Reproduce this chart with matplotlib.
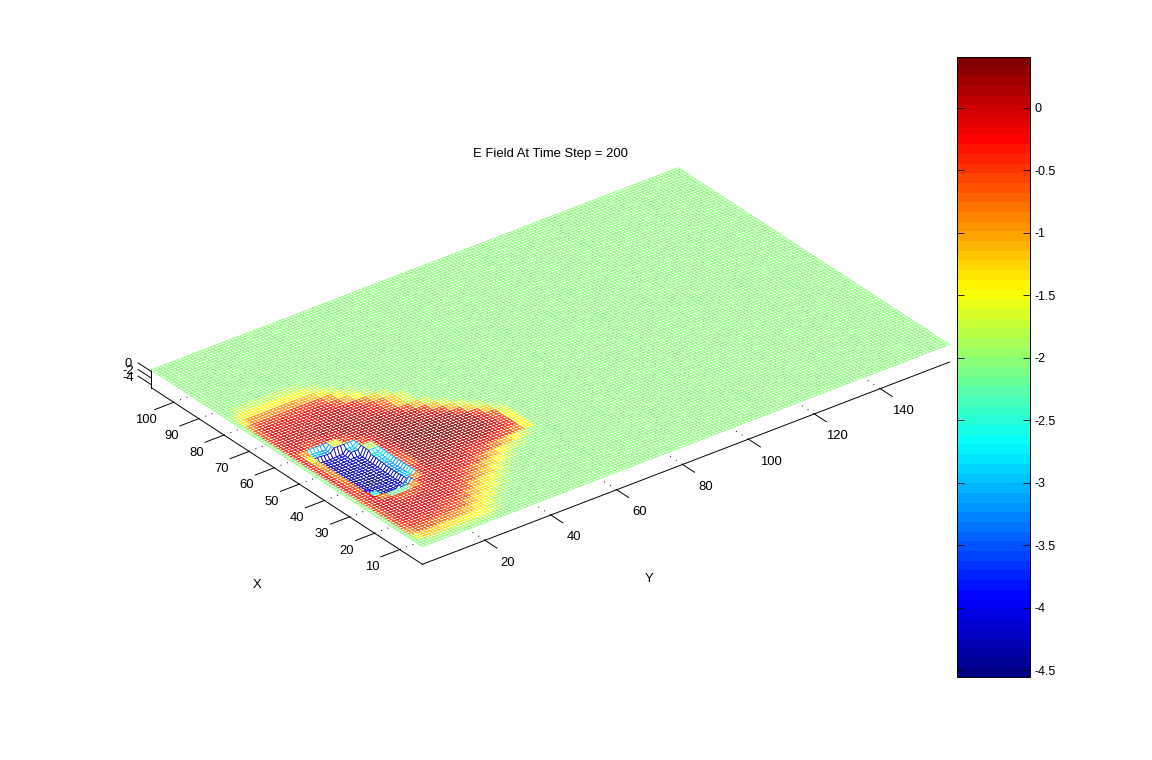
import matplotlib
matplotlib.use("Agg")
import matplotlib.pyplot as plt
from matplotlib.cm import ScalarMappable
from matplotlib.colors import LinearSegmentedColormap, Normalize
import numpy as np

plt.rcParams['font.family'] = ['Liberation Sans', 'DejaVu Sans']
plt.rcParams['font.size'] = 9.4
plt.rcParams['axes.unicode_minus'] = False

# grid size of the mesh
n_x = 109
n_y = 161
flat_level = -2.0
sheet_z = 0.45
cell = 3  # one table entry covers this many mesh cells

x_ticks = [10, 20, 30, 40, 50, 60, 70, 80, 90, 100]
y_ticks = [20, 40, 60, 80, 100, 120, 140]
z_ticks = [-4, -2, 0]
cbar_ticks = [0, -0.5, -1, -1.5, -2, -2.5, -3, -3.5, -4, -4.5]
c_min = -4.556
c_max = 0.408

# values, a row for every 3 X steps, every 3 Y steps along it
# rows stop where the field is back at the flat level
field_rows = [
    [-2, -1.9, -1.9, -1.9, -1.9, -1.9, -1.9, -1.9],
    [-1.6, -1.2, -1.2, -1.3, -1.3, -1.4, -1.5, -1.6, -1.8],
    [-0.9, -0.6, -0.6, -0.7, -0.8, -0.9, -1.1, -1.3, -1.6, -1.9],
    [-0.6, -0.3, -0.3, -0.3, -0.4, -0.5, -0.6, -1.0, -1.3, -1.6, -1.9],
    [-0.5, -0.2, -0.1, -0.1, -0.2, -0.3, -0.4, -0.6, -1.0, -1.3, -1.6, -1.9],
    [-0.5, -0.1, 0, 0, -0.1, -0.1, -0.2, -0.3, -0.6, -1.0, -1.3, -1.6, -1.9],
    [-0.5, -0.1, 0, -0.1, -0.1, 0, -0.1, -0.2, -0.3, -0.6, -0.9, -1.2, -1.6, -1.9],
    [-0.5, 0, -0.1, -0.5, -0.5, -0.3, -0.1, -0.1, -0.2, -0.3, -0.6, -0.9, -1.2, -1.5, -1.8],
    [-0.5, -0.1, -0.8, -2.2, -2.2, -0.9, -0.2, 0, -0.1, -0.1, -0.2, -0.4, -0.7, -1.0, -1.4, -1.7, -1.9],
    [-0.4, -0.3, -2.6, -4.2, -4.2, -3.4, -0.9, -0.1, 0, 0, 0, -0.1, -0.3, -0.4, -0.7, -1.0, -1.4, -1.7],
    [-0.3, -0.5, -4.0, -4.4, -4.4, -4.3, -3.0, -0.3, 0.1, 0.1, 0.1, 0, -0.1, -0.1, -0.2, -0.3, -0.5, -0.8, -1.5],
    [-0.3, -0.6, -4.3, -4.5, -4.5, -4.4, -3.2, -0.6, 0.1, 0.2, 0.2, 0.2, 0.1, 0.1, 0.1, 0, -0.1, -0.3, -1.4],
    [-0.3, -0.7, -4.3, -4.5, -4.5, -4.4, -3.2, -0.5, 0.2, 0.3, 0.3, 0.3, 0.3, 0.3, 0.2, 0.2, 0, -0.4, -1.5],
    [-0.3, -0.8, -4.3, -4.4, -4.4, -4.3, -3.0, -0.3, 0.2, 0.3, 0.3, 0.35, 0.35, 0.35, 0.3, 0.2, -0.1, -0.6, -1.6],
    [-0.3, -0.8, -4.3, -4.4, -4.4, -4.3, -2.8, -0.2, 0.2, 0.3, 0.35, 0.35, 0.35, 0.3, 0.25, 0.1, -0.4, -1.2, -1.9],
    [-0.3, -1.0, -4.2, -4.4, -4.3, -4.2, -1.8, -0.1, 0.2, 0.3, 0.3, 0.3, 0.3, 0.2, 0.1, -0.4, -1.2, -1.8],
    [-0.3, -1.4, -4.2, -4.3, -4.2, -3.0, -0.4, 0, 0.2, 0.25, 0.25, 0.2, 0.15, 0, -0.4, -1.1, -1.7],
    [-0.3, -0.9, -3.0, -3.2, -1.6, -0.4, 0, 0.1, 0.15, 0.2, 0.15, 0.1, 0, -0.4, -1.1, -1.7],
    [-0.3, -0.1, -0.4, -0.3, -0.1, 0, 0.1, 0.1, 0.1, 0.1, 0.05, -0.1, -0.5, -1.1, -1.7],
    [-0.3, 0, 0, 0, 0.1, 0.1, 0.1, 0.1, 0.05, 0, -0.2, -0.6, -1.2, -1.7],
    [-0.4, 0, 0, 0, 0, 0.05, 0.05, 0.05, 0, -0.1, -0.3, -0.7, -1.2, -1.7],
    [-0.5, -0.1, -0.1, -0.1, -0.05, 0, 0, 0, -0.1, -0.3, -0.7, -1.2, -1.7],
    [-0.6, -0.2, -0.2, -0.2, -0.2, -0.1, -0.1, -0.2, -0.5, -1.0, -1.5, -1.9],
    [-0.9, -0.4, -0.4, -0.4, -0.4, -0.4, -0.4, -0.5, -0.9, -1.4, -1.8],
    [-1.3, -0.9, -0.9, -0.9, -0.9, -0.9, -1.0, -1.1, -1.4, -1.8],
    [-1.7, -1.4, -1.4, -1.4, -1.4, -1.4, -1.5, -1.6, -1.8],
    [-2, -1.8, -1.8, -1.8, -1.8, -1.8, -1.8, -1.9],
]

field = np.full((n_x, n_y), flat_level)
for i, row in enumerate(field_rows):
    for j, value in enumerate(row):
        field[i * cell:(i + 1) * cell, j * cell:(j + 1) * cell] = value
# the outermost mesh line stays green all round
field[:, 0] = flat_level
field[0, :] = flat_level

# the sheet stays level except where the field drops below the flat level
height = sheet_z + np.minimum(field - flat_level, 0)

X, Y = np.meshgrid(np.arange(1, n_x + 1), np.arange(1, n_y + 1), indexing='ij')

fig = plt.figure(figsize=(11.52, 7.6), dpi=100, facecolor='white')
ax = fig.add_axes([-36 / 1152, 3.8 / 760, 1, 1], projection='3d', proj_type='ortho')
ax.patch.set_alpha(0)
ax.view_init(elev=30, azim=-37.5)
ax.set_xlim(n_x, 1)
ax.set_ylim(1, n_y)
ax.set_zlim(-4.9, 0.5)
ax.set_box_aspect((446, 665, 20.6), zoom=1.022)

# same stops as the jet in the reference colorbar
cmap = LinearSegmentedColormap.from_list('jet64', [
    (0, (0, 0, 0.53)), (1 / 8, (0, 0, 1)), (3 / 8, (0, 1, 1)),
    (5 / 8, (1, 1, 0)), (7 / 8, (1, 0, 0)), (1, (0.5, 0, 0))], N=64)
norm = Normalize(c_min, c_max)
white = np.ones(X.shape + (4,))
surf = ax.plot_surface(X, Y, height, rstride=1, cstride=1, facecolors=white, shade=False, linewidth=0.55)
surf.set_edgecolor(cmap(norm(field[:-1, :-1].ravel())))
surf.set_clip_on(False)

ax.set_xticks(x_ticks)
ax.set_yticks(y_ticks)
ax.set_zticks([])
ax.tick_params(axis='x', pad=7)
ax.tick_params(axis='y', pad=16)
ax.zaxis.set_ticks_position('lower')
for axis, factor in ((ax.xaxis, -0.45), (ax.yaxis, -0.55), (ax.zaxis, 0)):
    axis.pane.set_visible(False)
    axis.line.set_color('black')
    axis.line.set_linewidth(0.7)
    axis._axinfo['tick']['inward_factor'] = 0
    axis._axinfo['tick']['outward_factor'] = factor
    axis._axinfo['tick']['linewidth'] = {True: 0.7, False: 0.5}
    axis._axinfo['grid'].update(color='black', linewidth=0.7, linestyle=(0, (1, 6)))

# z ticks run along x in the reference, mplot3d can't do that in this view
for z in z_ticks:
    ax.plot([n_x, n_x + 5.2], [1, 1], [z, z], color='black', linewidth=0.7, clip_on=False)
    fig.text(128 / 1152, 1 - (364 - z * 3.4) / 760, str(z), ha='center', va='center')

fig.text(550 / 1152, 1 - 153.5 / 760, 'E Field At Time Step = 200', ha='center', va='center')
fig.text(257 / 1152, 1 - 584.5 / 760, 'X', ha='center', va='center')
fig.text(649 / 1152, 1 - 578.5 / 760, 'Y', ha='center', va='center')

cax = fig.add_axes([957 / 1152, 1 - 677 / 760, 73 / 1152, 620 / 760])
cbar = fig.colorbar(ScalarMappable(norm=norm, cmap=cmap), cax=cax)
cbar.set_ticks(cbar_ticks)
cbar.set_ticklabels(['0', '-0.5', '-1', '-1.5', '-2', '-2.5', '-3', '-3.5', '-4', '-4.5'])
cax.tick_params(direction='in', left=True, right=True, length=5, width=0.6, pad=3, labelsize=9)
cbar.outline.set_linewidth(0.7)

fig.savefig('out.png', dpi=100)
